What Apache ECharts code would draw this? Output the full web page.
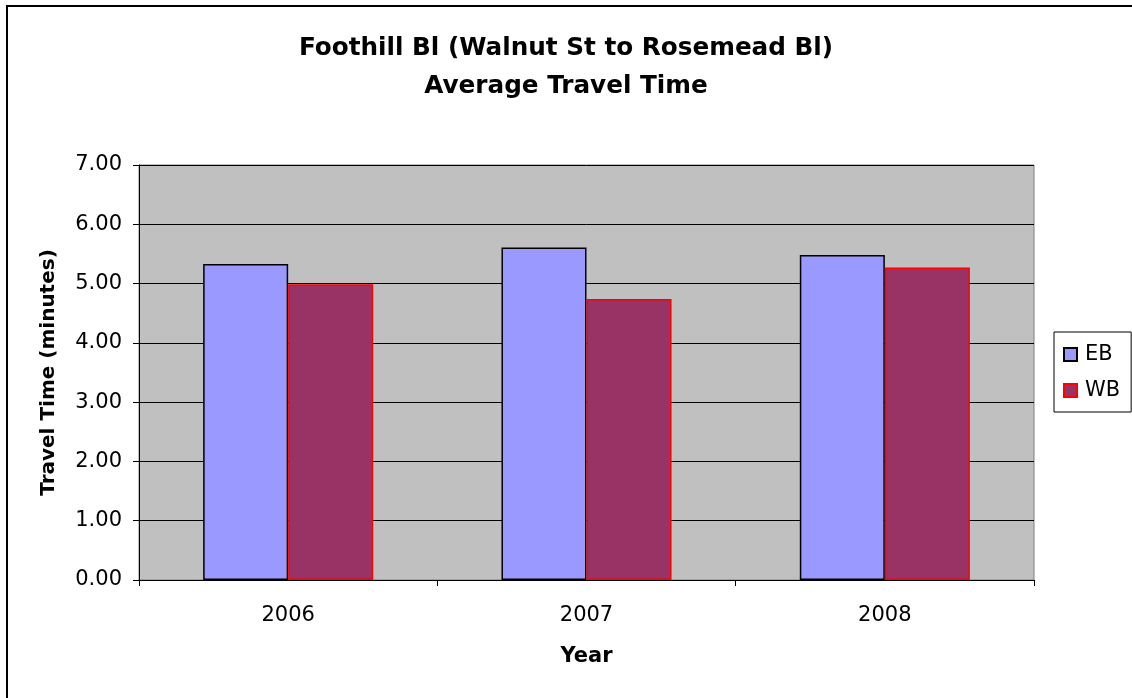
<!DOCTYPE html>
<html>
<head>
<meta charset="utf-8">
<script src="https://cdn.jsdelivr.net/npm/echarts@6/dist/echarts.min.js"></script>
<style>
  html, body { margin: 0; padding: 0; background: #fff; }
  #chart { width: 1132px; height: 698px; }
</style>
</head>
<body>
<div id="chart"></div>
<script>
// values
var years = ["2006", "2007", "2008"];
var ebTimes = [5.33, 5.61, 5.48];
var wbTimes = [4.99, 4.74, 5.27];
var yTicks = [0, 1, 2, 3, 4, 5, 6, 7];

var font = "DejaVu Sans, Liberation Sans, sans-serif";
var myecharts = echarts.init(document.getElementById("chart"));
var Option = {
  animation: false,
  textStyle: { fontFamily: font },
  title: {
    text: "Foothill Bl (Walnut St to Rosemead Bl)\nAverage Travel Time",
    left: "center",
    top: 25,
    textStyle: { fontSize: 24.7, fontWeight: "bold", color: "#000", lineHeight: 38, fontFamily: font }
  },
  graphic: [
    {
      type: "rect",
      shape: { x: 7, y: 6, width: 1300, height: 900 },
      style: { fill: "none", stroke: "#000", lineWidth: 2 },
      silent: true
    }
  ],
  legend: {
    orient: "vertical",
    left: 1054,
    top: 332,
    padding: [12, 11, 11, 9],
    itemGap: 15,
    itemWidth: 13,
    itemHeight: 13,
    icon: "rect",
    borderColor: "#000",
    borderWidth: 1,
    textStyle: { fontSize: 21, color: "#000", fontFamily: font, padding: [0, 0, 0, 3] },
    data: ["EB", "WB"]
  },
  grid: {
    left: 139,
    right: 98,
    top: 165,
    bottom: 118,
    show: true,
    backgroundColor: "#C0C0C0",
    borderColor: "#808080",
    borderWidth: 1
  },
  xAxis: {
    type: "category",
    data: years,
    name: "Year",
    nameLocation: "middle",
    nameGap: 66,
    nameTextStyle: { fontSize: 21, fontWeight: "bold", color: "#000" },
    axisLine: { lineStyle: { color: "#000", width: 1 } },
    axisTick: { show: true, length: 6, lineStyle: { color: "#000" } },
    axisLabel: { fontSize: 21, color: "#000", margin: 25 }
  },
  yAxis: {
    type: "value",
    min: yTicks[0],
    max: yTicks[yTicks.length - 1],
    interval: 1,
    name: "Travel Time (minutes)",
    nameLocation: "middle",
    nameGap: 80,
    nameTextStyle: { fontSize: 20, fontWeight: "bold", color: "#000" },
    axisLine: { show: true, lineStyle: { color: "#000", width: 1 } },
    axisTick: { show: true, length: 6, lineStyle: { color: "#000" } },
    axisLabel: {
      fontSize: 21,
      color: "#000",
      margin: 17,
      formatter: function (v) { return v.toFixed(2); }
    },
    splitLine: { show: true, lineStyle: { color: "#000", width: 1 } }
  },
  series: [
    {
      name: "EB",
      type: "bar",
      data: ebTimes,
      barGap: "0%",
      barCategoryGap: "43%",
      itemStyle: { color: "#9999FF", borderColor: "#000", borderWidth: 1.5 }
    },
    {
      name: "WB",
      type: "bar",
      data: wbTimes,
      itemStyle: { color: "#993366", borderColor: "#FF0000", borderWidth: 1.5 }
    }
  ]
};
myecharts.setOption(Option);
</script>
</body>
</html>
